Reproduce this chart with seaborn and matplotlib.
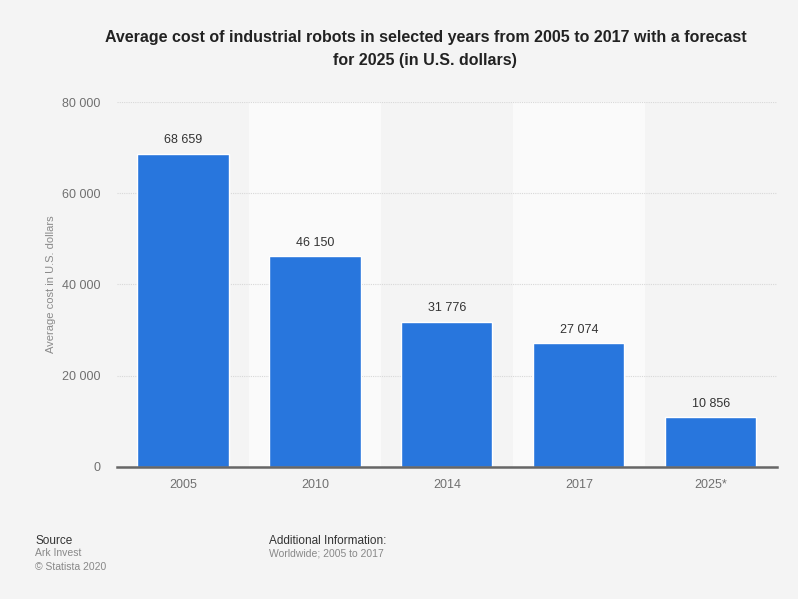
import matplotlib
matplotlib.use("Agg")
import matplotlib.pyplot as plt
import seaborn as sns
import pandas as pd

# -----------------------------
# Data
# -----------------------------
years = ['2005', '2010', '2014', '2017', '2025*']
avg_cost = [68659, 46150, 31776, 27074, 10856]
y_ticks = [0, 20000, 40000, 60000, 80000]

df = pd.DataFrame({'year': years, 'cost': avg_cost})

sns.set_style("white")
plt.rcParams['font.family'] = ['Liberation Sans', 'DejaVu Sans']

bg = '#f4f4f4'
fig = plt.figure(figsize=(7.98, 5.99), dpi=100, facecolor=bg)
ax = fig.add_axes([0.1466, 0.2204, 0.827, 0.6093])
ax.set_facecolor(bg)

# alternating column bands
for i in range(len(years)):
    if i % 2 == 1:
        ax.axvspan(i - 0.5, i + 0.5, color='#fafafa', zorder=0, lw=0)

sns.barplot(x='year', y='cost', data=df, color='#2876dd', width=0.69,
            saturation=1, ax=ax, zorder=3)

for i, v in enumerate(avg_cost):
    ax.text(i, v + 1700, f"{v:,}".replace(',', ' '), ha='center', va='bottom',
            fontsize=9, color='#333333', zorder=4)

ax.set_xlim(-0.5, len(years) - 0.5)
ax.set_ylim(0, 80000)
ax.set_yticks(y_ticks)
ax.set_yticklabels([f"{t:,}".replace(',', ' ') for t in y_ticks])
ax.yaxis.grid(True, linestyle=(0, (1, 1)), color='#d8d8d8', lw=0.8, zorder=1)
ax.set_axisbelow(True)

for s in ['top', 'right', 'left']:
    ax.spines[s].set_visible(False)
ax.spines['bottom'].set_color('#666666')
ax.spines['bottom'].set_linewidth(1.8)
ax.spines['bottom'].set_zorder(5)

ax.tick_params(axis='both', length=0, labelsize=9, colors='#707070')
ax.tick_params(axis='y', pad=12)
ax.tick_params(axis='x', pad=9)
ax.set_xlabel('')
ax.set_ylabel('Average cost in U.S. dollars', fontsize=8, color='#8a8a8a', labelpad=4)

fig.text(0.533, 0.918, 'Average cost of industrial robots in selected years from 2005 to 2017 with a forecast\nfor 2025 (in U.S. dollars)',
         ha='center', va='center', fontsize=11.5, fontweight='bold', color='#222222', linespacing=1.65)

fig.text(0.044, 0.097, 'Source', fontsize=8.5, color='#333333', va='center')
fig.text(0.044, 0.076, 'Ark Invest', fontsize=7.5, color='#888888', va='center')
fig.text(0.044, 0.054, '\u00a9 Statista 2020', fontsize=7.5, color='#888888', va='center')
fig.text(0.337, 0.097, 'Additional Information:', fontsize=8.5, color='#333333', va='center')
fig.text(0.337, 0.076, 'Worldwide; 2005 to 2017', fontsize=7.5, color='#888888', va='center')

plt.savefig('out.png', dpi=100, facecolor=bg)
